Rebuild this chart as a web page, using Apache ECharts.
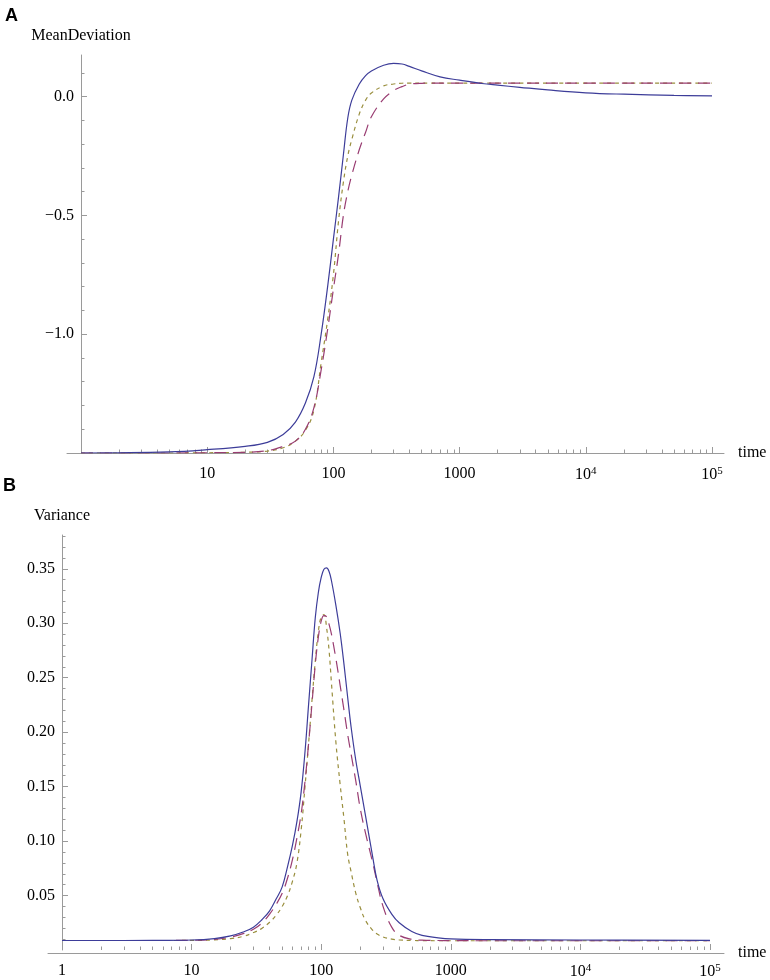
<!DOCTYPE html>
<html>
<head>
<meta charset="utf-8">
<script src="https://cdn.jsdelivr.net/npm/echarts@6/dist/echarts.min.js"></script>
<style>
  html, body { margin: 0; padding: 0; background: #fff; }
  #main { width: 770px; height: 980px; }
</style>
</head>
<body>
<div id="main"></div>
<script>
// panel A: MeanDeviation against time
const timesA = [1, 5, 10, 20, 30, 40, 50, 60, 70, 80, 90, 100, 110, 120, 130, 140, 160, 180, 200,
  250, 300, 350, 400, 500, 700, 1000, 1500, 2000, 3000, 5000, 10000, 20000, 50000, 100000];
const solidA = [-1.500, -1.495, -1.486, -1.472, -1.455, -1.422, -1.370, -1.290, -1.180, -1.000, -0.800,
  -0.600, -0.420, -0.245, -0.090, -0.015, 0.052, 0.088, 0.108, 0.132, 0.140, 0.137, 0.127, 0.108, 0.083,
  0.069, 0.055, 0.048, 0.039, 0.028, 0.016, 0.010, 0.005, 0.003];
const longDashA = [-1.500, -1.500, -1.499, -1.497, -1.490, -1.472, -1.450, -1.400, -1.310, -1.150, -0.980,
  -0.810, -0.660, -0.500, -0.400, -0.330, -0.225, -0.150, -0.085, -0.010, 0.025, 0.042, 0.052, 0.056, 0.057,
  0.057, 0.057, 0.057, 0.057, 0.057, 0.057, 0.057, 0.057, 0.057];
const shortDashA = [-1.500, -1.500, -1.499, -1.497, -1.492, -1.478, -1.450, -1.405, -1.320, -1.120, -0.940,
  -0.750, -0.520, -0.360, -0.250, -0.180, -0.075, -0.015, 0.015, 0.045, 0.053, 0.056, 0.057, 0.057, 0.057,
  0.057, 0.057, 0.057, 0.057, 0.057, 0.057, 0.057, 0.057, 0.057];

// panel B: Variance against time
const timesB = [1, 5, 10, 15, 20, 25, 30, 35, 40, 45, 50, 55, 60, 65, 70, 75, 80, 85, 90, 95, 100, 105,
  110, 115, 120, 130, 140, 150, 160, 170, 185, 200, 220, 250, 270, 300, 350, 400, 500, 600, 800, 1000,
  2000, 10000, 100000];
const solidB = [0.0087, 0.0088, 0.0092, 0.0105, 0.0130, 0.0165, 0.0210, 0.0280, 0.0360, 0.0470, 0.0580,
  0.0765, 0.0960, 0.1180, 0.1450, 0.1820, 0.2260, 0.2670, 0.3050, 0.3280, 0.3420, 0.3495, 0.3508, 0.3475,
  0.3390, 0.3160, 0.2910, 0.2620, 0.2320, 0.2050, 0.1740, 0.1510, 0.1230, 0.0850, 0.0640, 0.0470, 0.0330,
  0.0250, 0.0170, 0.0135, 0.0112, 0.0102, 0.0096, 0.0092, 0.0088];
const longDashB = [0.0087, 0.0087, 0.0089, 0.0098, 0.0118, 0.0150, 0.0190, 0.0250, 0.0330, 0.0420, 0.0520,
  0.0660, 0.0830, 0.1030, 0.1250, 0.1550, 0.1900, 0.2270, 0.2620, 0.2870, 0.3020, 0.3070, 0.3060, 0.2990,
  0.2900, 0.2670, 0.2430, 0.2200, 0.1980, 0.1800, 0.1550, 0.1300, 0.1070, 0.0800, 0.0620, 0.0400, 0.0210,
  0.0135, 0.0098, 0.0090, 0.0087, 0.0086, 0.0085, 0.0085, 0.0085];
const shortDashB = [0.0087, 0.0087, 0.0088, 0.0093, 0.0105, 0.0125, 0.0160, 0.0200, 0.0255, 0.0320, 0.0400,
  0.0500, 0.0630, 0.0800, 0.1100, 0.1500, 0.1900, 0.2300, 0.2650, 0.2920, 0.3060, 0.3080, 0.2960, 0.2750,
  0.2450, 0.1900, 0.1520, 0.1200, 0.0880, 0.0720, 0.0520, 0.0390, 0.0270, 0.0180, 0.0147, 0.0120, 0.0100,
  0.0092, 0.0088, 0.0086, 0.0085, 0.0085, 0.0085, 0.0085, 0.0085];

// ticks and labels
const majorX = [1, 10, 100, 1000, 10000, 100000];
const labelXA = [10, 100, 1000, 10000, 100000];
const labelXB = [1, 10, 100, 1000, 10000, 100000];
const majorYA = [-1.0, -0.5, 0.0];
const labelYA = [-1.0, -0.5, 0.0];
const majorYB = [0.05, 0.10, 0.15, 0.20, 0.25, 0.30, 0.35];
const labelYB = [0.05, 0.10, 0.15, 0.20, 0.25, 0.30, 0.35];

const minorX = [];
for (let k = 0; k < 5; k++) for (let m = 2; m < 10; m++) minorX.push(m * Math.pow(10, k));
const minorYA = [];
for (let i = -14; i <= 1; i++) if (i % 5 !== 0) minorYA.push(i / 10);
const minorYB = [];
for (let i = 1; i <= 38; i++) if (i % 5 !== 0) minorYB.push(i / 100);

const serif = 'Liberation Serif';
const gray = '#9a9a9a';
const colors = ['#3d3d99', '#993d72', '#998e3d'];

function pairs(xs, ys) { return xs.map((x, i) => [x, ys[i]]); }

function fmtX(v) {
  const e = Math.round(Math.log10(v));
  if (e >= 4) return '{b|10}{s|' + e + '}';
  return '{b|' + Math.round(v) + '}';
}
const richX = {
  b: { fontFamily: serif, fontSize: 16, color: '#000' },
  s: { fontFamily: serif, fontSize: 11, color: '#000', verticalAlign: 'top', padding: [0, 0, 7, 0] }
};

function xMajor(grid, labels) {
  return {
    gridIndex: grid, type: 'log', logBase: 10, min: 1, max: 100000, position: 'bottom',
    axisLine: { show: false, onZero: false },
    axisTick: { show: true, inside: true, length: 6, lineStyle: { color: gray }, customValues: majorX },
    axisLabel: { customValues: labels, formatter: fmtX, rich: richX, margin: 13 },
    splitLine: { show: false }, minorTick: { show: false }
  };
}
function xMinor(grid) {
  return {
    gridIndex: grid, type: 'log', logBase: 10, min: 1, max: 100000, position: 'bottom',
    axisLine: { show: false, onZero: false },
    axisTick: { show: true, inside: true, length: 3.5, lineStyle: { color: gray }, customValues: minorX },
    axisLabel: { show: false }, splitLine: { show: false }
  };
}
function xLine(grid) {
  return {
    gridIndex: grid, type: 'value', min: 0, max: 1, position: 'bottom',
    axisLine: { show: true, onZero: false, lineStyle: { color: gray, width: 1 } },
    axisTick: { show: false }, axisLabel: { show: false }, splitLine: { show: false },
    name: 'time', nameLocation: 'end', nameGap: 14,
    nameTextStyle: { fontFamily: serif, fontSize: 16, color: '#000' }
  };
}
function yMajor(grid, min, max, ticks, labels, fmt, name) {
  return {
    gridIndex: grid, type: 'value', min: min, max: max, position: 'left',
    axisLine: { show: true, onZero: false, lineStyle: { color: gray, width: 1 } },
    axisTick: { show: true, inside: true, length: 6, lineStyle: { color: gray }, customValues: ticks },
    axisLabel: { customValues: labels, formatter: fmt, fontFamily: serif, fontSize: 16, color: '#000', margin: 7 },
    splitLine: { show: false },
    name: name, nameLocation: 'end', nameGap: 11,
    nameTextStyle: { fontFamily: serif, fontSize: 16, color: '#000' }
  };
}
function yMinor(grid, min, max, ticks) {
  return {
    gridIndex: grid, type: 'value', min: min, max: max, position: 'left',
    axisLine: { show: false, onZero: false },
    axisTick: { show: true, inside: true, length: 3.5, lineStyle: { color: gray }, customValues: ticks },
    axisLabel: { show: false }, splitLine: { show: false }
  };
}
function yHidden(grid) {
  return { gridIndex: grid, type: 'value', min: 0, max: 1, show: false };
}

function line(data, xi, yi, k) {
  const dash = [null, [12, 7], [4, 4]][k];
  return {
    type: 'line', data: data, xAxisIndex: xi, yAxisIndex: yi,
    showSymbol: false, symbol: 'none', smooth: 0.4,
    lineStyle: { color: colors[k], width: 1.2, type: dash || 'solid' },
    z: 3 - k, animation: false
  };
}

const myChart = echarts.init(document.getElementById('main'));
myChart.setOption({
  backgroundColor: '#fff',
  animation: false,
  title: [
    { text: 'A', left: 5, top: 7, padding: 0, textStyle: { fontFamily: 'Liberation Sans', fontWeight: 'bold', fontSize: 18, color: '#000' } },
    { text: 'B', left: 3, top: 477, padding: 0, textStyle: { fontFamily: 'Liberation Sans', fontWeight: 'bold', fontSize: 18, color: '#000' } }
  ],
  grid: [
    { left: 81, right: 58, top: 55, height: 398 },
    { left: 67, right: 46, top: 55, height: 398 },
    { left: 62, right: 60, top: 535, height: 418 },
    { left: 48, right: 46, top: 535, height: 418 }
  ],
  xAxis: [xMajor(0, labelXA), xMinor(0), xLine(1), xMajor(2, labelXB), xMinor(2), xLine(3)],
  yAxis: [
    yMajor(0, -1.5, 0.175, majorYA, labelYA,
      v => (v < 0 ? '\u2212' : '') + Math.abs(v).toFixed(1), 'MeanDeviation'),
    yMinor(0, -1.5, 0.175, minorYA),
    yHidden(1),
    yMajor(2, 0, 0.381, majorYB, labelYB, v => v.toFixed(2), 'Variance'),
    yMinor(2, 0, 0.381, minorYB),
    yHidden(3)
  ],
  series: [
    line(pairs(timesA, solidA), 0, 0, 0),
    line(pairs(timesA, longDashA), 0, 0, 1),
    line(pairs(timesA, shortDashA), 0, 0, 2),
    line(pairs(timesB, solidB), 3, 3, 0),
    line(pairs(timesB, longDashB), 3, 3, 1),
    line(pairs(timesB, shortDashB), 3, 3, 2)
  ]
});
</script>
</body>
</html>
